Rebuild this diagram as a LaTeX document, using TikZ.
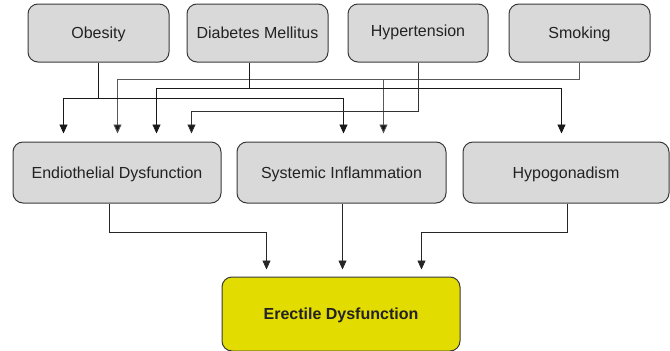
\documentclass[tikz,border=0pt]{standalone}
\usepackage{fontspec}
\setmainfont{Liberation Sans}
\usetikzlibrary{arrows.meta,calc}
\definecolor{boxfill}{HTML}{D9D9D9}
\definecolor{boxline}{HTML}{3A3A3A}
\definecolor{edfill}{HTML}{E2DC00}
\definecolor{txt}{HTML}{222222}
\begin{document}
\begin{tikzpicture}[x=1pt,y=-1pt,
  box/.style={draw=boxline,fill=boxfill,line width=1pt,rounded corners=10pt,
    inner sep=0pt,text=txt,text height=11.6pt,text depth=0pt,
    font=\fontsize{16}{19}\selectfont},
  topbox/.style={box,minimum width=141pt,minimum height=58pt},
  midbox/.style={box,minimum height=61pt},
  link/.style={line width=0.9pt,draw=#1},
  link/.default={black!90},
  arr/.style={link=#1,-{Triangle[length=9pt,width=8pt,fill=black!90]},shorten >=8pt},
  arr/.default={black!90},
  low/.style={line width=0.7pt,draw=black!85,-{Triangle[length=9pt,width=8pt]},shorten >=7pt}]
\useasboundingbox (0,0) rectangle (670,351);

% risk factors
\node[topbox] (ob) at (98.5,33) {Obesity};
\node[topbox] (db) at (257.5,33) {Diabetes Mellitus};
\node[topbox,minimum width=140pt] (ht) at (418,33) {\raisebox{2pt}{Hypertension}};
\node[topbox] (sm) at (579.5,33) {Smoking};

% intermediate mechanisms
\node[midbox,minimum width=208pt] (endo) at (117,172.5) {Endiothelial Dysfunction};
\node[midbox,minimum width=209pt] (sys) at (341.5,172.5) {Systemic Inflammation};
\node[midbox,minimum width=206pt] (hypo) at (566,172.5) {Hypogonadism};

% outcome
\node[box,fill=edfill,minimum width=238pt,minimum height=74pt,
  font=\fontsize{16}{19}\selectfont\bfseries] (ed) at (341,314) {Erectile Dysfunction};

% drop points above the middle row
\path (endo.north west) ++(51,0) coordinate (eO) ++(54,0) coordinate (eS)
  ++(39,0) coordinate (eD) ++(35,0) coordinate (eH);
\path (sys.north west) ++(107,0) coordinate (sO) ++(40,0) coordinate (sS);
\path (hypo.north west) ++(99,0) coordinate (hD);
\path (ed.north west) ++(45,0) coordinate (dE) ++(76,0) coordinate (dS)
  ++(79,0) coordinate (dH);

% bus levels
\coordinate (ySm) at (0,79);
\coordinate (yDb) at (0,88);
\coordinate (yOb) at (0,98.5);
\coordinate (yHt) at (0,111.5);
\coordinate (yLow) at (0,232);
\coordinate (dbOut) at ($(db.south)+(-8.5,0)$);

% smoking
\draw[arr=black!65] (sm.south) |- (eS |- ySm) -- (eS);
\draw[arr=black!65] (sS |- ySm) -- (sS);
% diabetes mellitus
\draw[arr] (dbOut) |- (eD |- yDb) -- (eD);
\draw[arr] (dbOut |- yDb) -| (hD);
% obesity
\draw[arr] (ob.south) |- (eO |- yOb) -- (eO);
\draw[arr] (ob.south |- yOb) -| (sO);
% hypertension
\draw[arr=black!80] (ht.south) |- (eH |- yHt) -- (eH);

% mechanisms to outcome
\draw[low] (endo.south) ++(-8,0) coordinate (endoOut) |- (dE |- yLow) -- (dE);
\draw[low] (dS |- sys.south) -- (dS);
\draw[low] ($(hypo.south)+(1,0)$) |- (dH |- yLow) -- (dH);
\end{tikzpicture}
\end{document}
